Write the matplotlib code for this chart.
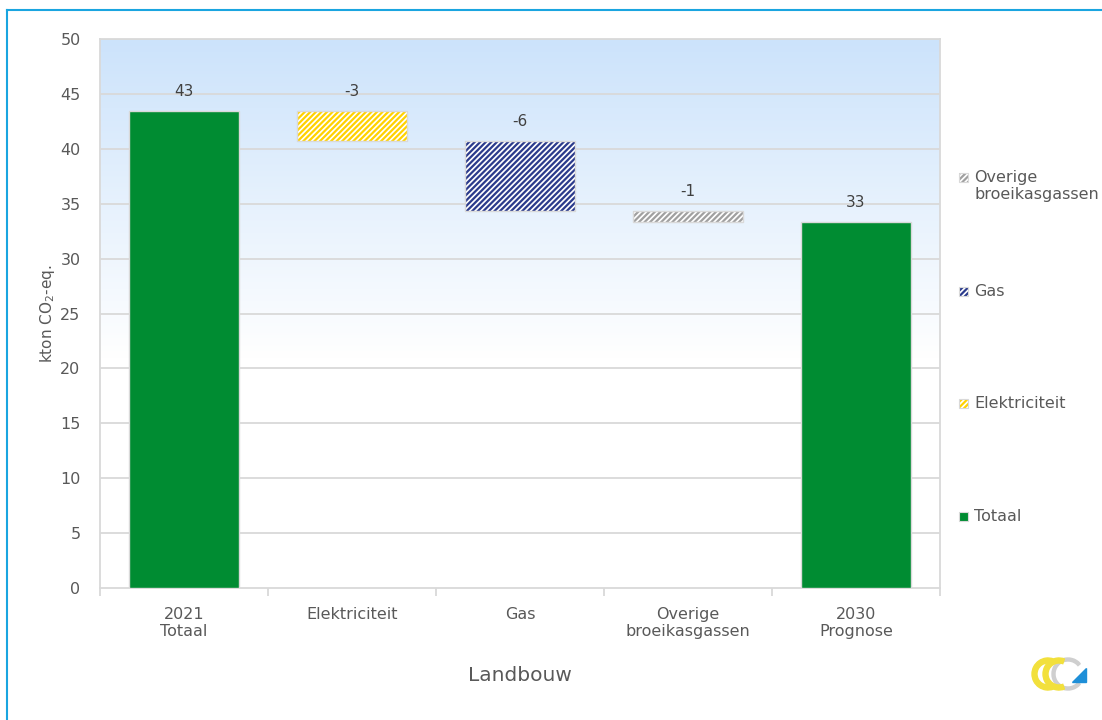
import numpy as np
import matplotlib
matplotlib.use("Agg")
import matplotlib.pyplot as plt
from matplotlib.patches import Rectangle, Wedge, Polygon

categories = ["2021\nTotaal", "Elektriciteit", "Gas", "Overige\nbroeikasgassen", "2030\nPrognose"]
start_total = 43.4
changes = [-2.7, -6.4, -1.0]
end_total = 33.3
value_labels = ["43", "-3", "-6", "-1", "33"]

legend_names = ["Totaal", "Elektriciteit", "Gas", "Overige\nbroeikasgassen"]

green = "#008C32"
styles = [
    dict(fc=green, hc=None),
    dict(fc="white", hc="#FFD200"),
    dict(fc="white", hc="#2B3B8C"),
    dict(fc="white", hc="#A0A0A0"),
    dict(fc=green, hc=None),
]
grey_txt = "#595959"
grid_col = "#D9D9D9"

plt.rcParams["font.family"] = ["DejaVu Sans"]
plt.rcParams["hatch.linewidth"] = 1.6

fig = plt.figure(figsize=(11.02, 7.2), dpi=100)
ax = fig.add_axes([100 / 1102, 132 / 720, 840 / 1102, 549 / 720])

# bar bottoms and heights for the waterfall
bottoms = [0.0]
heights = [start_total]
level = start_total
for c in changes:
    bottoms.append(level + c)
    heights.append(-c)
    level += c
bottoms.append(0.0)
heights.append(end_total)

# background gradient: white low down, light blue at the top
grad = np.linspace(0, 50, 400)
t = np.clip((grad - 21) / 29, 0, 1)[:, None]
top = np.array([0.80, 0.89, 0.985])
img = (1 - t)[..., None] * np.ones(3) + t[..., None] * top
img = np.repeat(img, 2, axis=1)
ax.imshow(img, extent=[-0.5, 4.5, 0, 50], origin="lower", aspect="auto", zorder=0)

for y in range(5, 51, 5):
    ax.axhline(y, color=grid_col, lw=1.3, zorder=1)

x = np.arange(len(categories))
w = 0.655
for i in range(len(categories)):
    s = styles[i]
    if s["hc"] is None:
        ax.bar(x[i], heights[i], w, bottom=bottoms[i], color=s["fc"],
               edgecolor=grid_col, lw=1, zorder=3)
    else:
        ax.bar(x[i], heights[i], w, bottom=bottoms[i], color=s["fc"],
               edgecolor=s["hc"], hatch="//////", lw=0, zorder=3)
        ax.bar(x[i], heights[i], w, bottom=bottoms[i], color="none",
               edgecolor=grid_col, lw=1, zorder=4)
    ax.text(x[i], bottoms[i] + heights[i] + 1.1, value_labels[i], ha="center",
            va="bottom", fontsize=11, color="#404040", zorder=5)

ax.set_xlim(-0.5, 4.5)
ax.set_ylim(0, 50)
ax.set_yticks(range(0, 51, 5))
ax.set_xticks(x)
ax.set_xticklabels(categories, fontsize=11.5, color=grey_txt, linespacing=1.1)
ax.set_xticks(np.arange(-0.5, 4.6, 1), minor=True)
ax.tick_params(axis="x", which="major", length=0, pad=14)
ax.tick_params(axis="x", which="minor", length=6, color=grid_col, width=1.3)
ax.tick_params(axis="y", length=0, pad=14, labelsize=11.5, labelcolor=grey_txt)
for sp in ax.spines.values():
    sp.set_color(grid_col)
    sp.set_linewidth(1.3)

ax.set_ylabel("kton CO$_2$-eq.", fontsize=11, color=grey_txt)
ax.yaxis.set_label_coords(-43 / 840, 0.5)
ax.set_xlabel("Landbouw", fontsize=14.5, color=grey_txt, labelpad=20)

# legend on the right, spread out top to bottom
leg_y = [516, 403, 291, 177]
for name, s, yy in zip(legend_names, [styles[0], styles[1], styles[2], styles[3]], leg_y):
    py = 1 - yy / 720
    if s["hc"] is None:
        fig.patches.append(Rectangle((959 / 1102, py - 4.5 / 720), 9 / 1102, 9 / 720,
                                     transform=fig.transFigure, fc=s["fc"],
                                     ec=grid_col, lw=0.8))
    else:
        fig.patches.append(Rectangle((959 / 1102, py - 4.5 / 720), 9 / 1102, 9 / 720,
                                     transform=fig.transFigure, fc="white",
                                     ec=s["hc"], hatch="//////", lw=0))
        fig.patches.append(Rectangle((959 / 1102, py - 4.5 / 720), 9 / 1102, 9 / 720,
                                     transform=fig.transFigure, fc="none",
                                     ec=grid_col, lw=0.8))
    fig.text(974 / 1102, py + 7 / 720, name, fontsize=11.5, color=grey_txt,
             va="top", ha="left", linespacing=1.15)

# frame line along top and left of the figure
fig.add_artist(plt.Line2D([7 / 1102, 1], [1 - 10 / 720, 1 - 10 / 720],
                          transform=fig.transFigure, color="#1AA5E0", lw=1.5))
fig.add_artist(plt.Line2D([7 / 1102, 7 / 1102], [0, 1 - 10 / 720],
                          transform=fig.transFigure, color="#1AA5E0", lw=1.5))

# small logo in the corner
lax = fig.add_axes([1030 / 1102, 18 / 720, 60 / 1102, 56 / 720])
lax.set_xlim(0, 60)
lax.set_ylim(0, 56)
lax.set_aspect("equal")
lax.axis("off")
lax.add_patch(Wedge((38, 28), 16, 40, 320, width=3, color="#CFCFCF"))
lax.add_patch(Wedge((18, 28), 16, 70, 290, width=5, color="#F2E03C"))
lax.add_patch(Wedge((29, 28), 16, 70, 290, width=5, color="#F2E03C"))
lax.add_patch(Polygon([[42, 20], [56, 20], [56, 34]], color="#1E8FD8"))

fig.savefig("out.png", dpi=100)
